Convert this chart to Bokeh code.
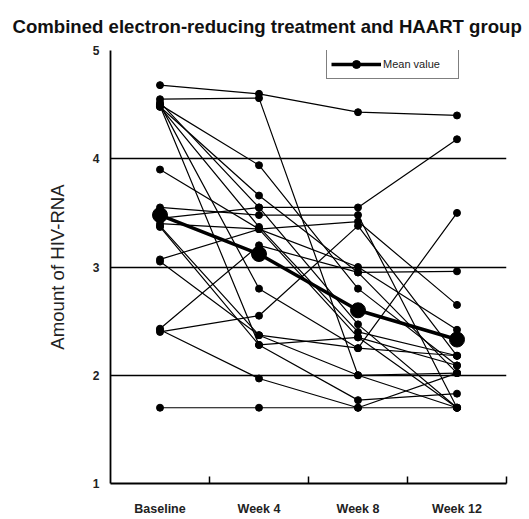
from bokeh.plotting import figure
from bokeh.models import FixedTicker, Range1d, Legend, LegendItem, ColumnDataSource
from bokeh.embed import file_html
from bokeh.resources import INLINE

title_text = "Combined electron-reducing treatment and HAART group"
categories = ["Baseline", "Week 4", "Week 8", "Week 12"]
y_ticks = [1, 2, 3, 4, 5]

# per-subject values at each visit
baseline = [4.68, 4.55, 4.50, 4.48, 4.52, 4.48, 4.50, 4.49, 3.90, 3.55,
            3.45, 3.40, 3.38, 3.07, 3.05, 2.43, 2.40, 2.42, 1.70, 3.37]
week4 = [4.60, 4.56, 3.94, 3.66, 3.55, 3.37, 2.80, 2.28, 3.35, 3.48,
         3.55, 3.35, 2.37, 3.35, 2.37, 3.20, 2.55, 1.97, 1.70, 2.28]
week8 = [4.43, 2.00, 2.80, 2.95, 2.47, 2.40, 2.25, 1.77, 2.35, 3.48,
         3.55, 3.00, 2.00, 3.42, 2.25, 2.95, 3.38, 1.70, 1.70, 2.35]
week12 = [4.40, 1.70, 2.09, 2.02, 1.70, 2.18, 3.50, 1.83, 2.09, 1.70,
          4.18, 2.42, 2.02, 2.65, 2.18, 2.96, 2.18, 2.02, 1.70, 1.70]
mean_values = [3.48, 3.12, 2.60, 2.33]

positions = [i + 0.5 for i in range(len(categories))]
boundaries = [i + 1 for i in range(len(categories))]

p = figure(width=524, height=518, output_backend="svg", toolbar_location=None,
           x_range=Range1d(0, len(categories)), y_range=Range1d(1, 5),
           min_border_left=110, min_border_right=18, min_border_top=50,
           min_border_bottom=35, title=title_text)

p.title.text_font = "Liberation Sans"
p.title.text_font_size = "18.6px"
p.title.text_font_style = "bold"
p.title.text_color = "#111111"
p.title.align = "left"
p.title.vertical_align = "top"
p.title.offset = -98
p.title.standoff = 24

p.outline_line_color = None
p.background_fill_color = "white"
p.border_fill_color = "white"

# grid
p.xgrid.visible = False
p.ygrid.ticker = FixedTicker(ticks=[2, 3, 4, 5])
p.ygrid.grid_line_color = "black"
p.ygrid.grid_line_width = 1.6
p.ygrid.grid_line_alpha = 1.0

# x axis
p.xaxis.ticker = FixedTicker(ticks=positions, minor_ticks=boundaries)
p.xaxis.major_label_overrides = {pos: lab for pos, lab in zip(positions, categories)}
p.xaxis.major_tick_line_color = None
p.xaxis.major_tick_in = 0
p.xaxis.major_tick_out = 0
p.xaxis.minor_tick_line_color = "black"
p.xaxis.minor_tick_line_width = 1.5
p.xaxis.minor_tick_in = 7
p.xaxis.minor_tick_out = 0
p.xaxis.major_label_standoff = 18
p.xaxis.major_label_text_font = "Liberation Sans"
p.xaxis.major_label_text_font_style = "bold"
p.xaxis.major_label_text_font_size = "12.5px"
p.xaxis.major_label_text_color = "#222222"
p.xaxis.axis_line_width = 1.8
p.xaxis.axis_line_color = "black"

# y axis
p.yaxis.ticker = FixedTicker(ticks=y_ticks)
p.yaxis.major_tick_line_color = None
p.yaxis.major_tick_in = 0
p.yaxis.major_tick_out = 0
p.yaxis.minor_tick_line_color = None
p.yaxis.minor_tick_in = 0
p.yaxis.minor_tick_out = 0
p.yaxis.major_label_standoff = 11
p.yaxis.major_label_text_font = "Liberation Sans"
p.yaxis.major_label_text_font_style = "bold"
p.yaxis.major_label_text_font_size = "12px"
p.yaxis.major_label_text_color = "#222222"
p.yaxis.axis_line_width = 1.8
p.yaxis.axis_line_color = "black"
p.yaxis.axis_label = "Amount of HIV-RNA"
p.yaxis.axis_label_text_font = "Liberation Sans"
p.yaxis.axis_label_text_font_style = "normal"
p.yaxis.axis_label_text_font_size = "18.6px"
p.yaxis.axis_label_text_color = "#222222"
p.yaxis.axis_label_standoff = 22

# individual subjects
xs = [positions for _ in baseline]
ys = [list(v) for v in zip(baseline, week4, week8, week12)]
p.multi_line(xs=xs, ys=ys, line_color="black", line_width=1.2)
px = [x for _ in baseline for x in positions]
py = [y for row in ys for y in row]
p.scatter(px, py, size=7, color="black")

# mean
mean_src = ColumnDataSource(dict(x=positions, y=mean_values))
ml = p.line("x", "y", source=mean_src, line_color="black", line_width=3.5)
ms = p.scatter("x", "y", source=mean_src, size=15, color="black")
# smaller dot used only for the legend swatch
ld = p.scatter("x", "y", source=mean_src, size=10, color="black", visible=False)

legend = Legend(items=[LegendItem(label="Mean value", renderers=[ml, ld])],
                location=(216, 404))
legend.padding = 4
legend.margin = 0
legend.glyph_width = 50
legend.glyph_height = 20
legend.label_standoff = 2
legend.label_width = 71
legend.label_text_font = "Liberation Sans"
legend.label_text_font_size = "11px"
legend.label_text_color = "#222222"
legend.border_line_color = "black"
legend.border_line_width = 1.5
legend.background_fill_color = "white"
legend.background_fill_alpha = 1.0
legend.inactive_fill_alpha = 0.0
p.add_layout(legend)

open("out.html", "w").write(file_html(p, INLINE))
